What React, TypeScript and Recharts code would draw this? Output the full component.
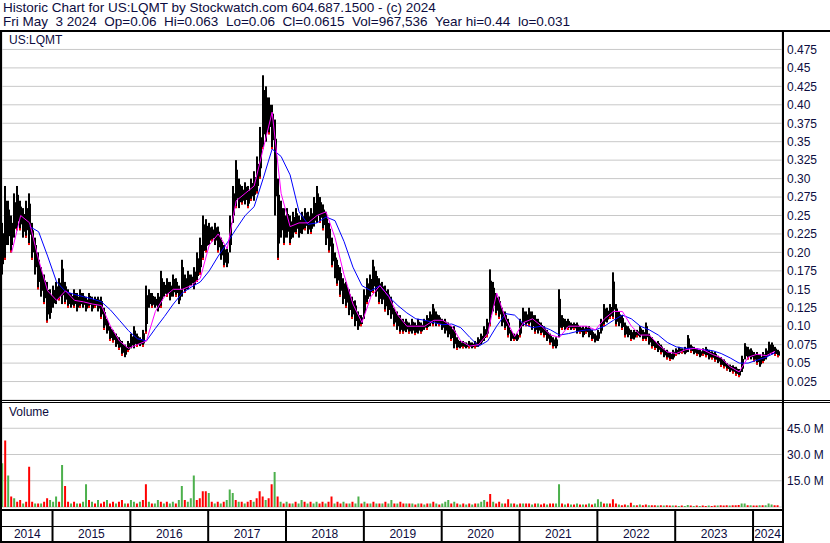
import React from "react";
import { Bar, CartesianGrid, Cell, ComposedChart, Line, XAxis, YAxis } from "recharts";

// header text
const headerLines = [
  "Historic Chart for US:LQMT by Stockwatch.com 604.687.1500 - (c) 2024",
  "Fri May  3 2024  Op=0.06  Hi=0.063  Lo=0.06  Cl=0.0615  Vol=967,536  Year hi=0.44  lo=0.031",
];
const symbol = "US:LQMT";

// time axis: one point every two weeks
const firstDate = 2014.36;
const pointsPerYear = 26;
const xDomain: [number, number] = [2014.351, 2024.372];
const years = [2014, 2015, 2016, 2017, 2018, 2019, 2020, 2021, 2022, 2023, 2024];
const yearTicks = [2015, 2016, 2017, 2018, 2019, 2020, 2021, 2022, 2023, 2024];

const priceTicks = [
  0.025, 0.05, 0.075, 0.1, 0.125, 0.15, 0.175, 0.2, 0.225, 0.25, 0.275, 0.3, 0.325, 0.35, 0.375, 0.4,
  0.425, 0.45, 0.475,
];
const priceTickLabels = [
  "0.025", "0.05", "0.075", "0.10", "0.125", "0.15", "0.175", "0.20", "0.225", "0.25", "0.275", "0.30",
  "0.325", "0.35", "0.375", "0.40", "0.425", "0.45", "0.475",
];
const volTicks = [15, 30, 45];
const volTickLabels = ["15.0 M", "30.0 M", "45.0 M"];

const priceHigh = [
  0.24, 0.29, 0.27, 0.25, 0.28, 0.29, 0.27, 0.26, 0.27, 0.28,
  0.24, 0.22, 0.2, 0.18, 0.17, 0.16, 0.15, 0.155, 0.16, 0.165,
  0.19, 0.16, 0.15, 0.145, 0.15, 0.145, 0.15, 0.145, 0.14, 0.145,
  0.14, 0.14, 0.14, 0.14, 0.125, 0.11, 0.1, 0.095, 0.09, 0.085,
  0.08, 0.075, 0.08, 0.09, 0.1, 0.09, 0.085, 0.095, 0.155, 0.15,
  0.145, 0.14, 0.145, 0.175, 0.16, 0.165, 0.16, 0.17, 0.165, 0.155,
  0.19, 0.17, 0.175, 0.17, 0.18, 0.2, 0.22, 0.25, 0.245, 0.24,
  0.235, 0.24, 0.235, 0.22, 0.21, 0.205, 0.25, 0.29, 0.325, 0.3,
  0.29, 0.295, 0.29, 0.3, 0.31, 0.33, 0.37, 0.44, 0.425, 0.41,
  0.4, 0.38, 0.3, 0.27, 0.26, 0.26, 0.25, 0.255, 0.26, 0.25,
  0.255, 0.26, 0.255, 0.26, 0.275, 0.29, 0.275, 0.265, 0.255, 0.24,
  0.22, 0.2, 0.19, 0.18, 0.165, 0.16, 0.15, 0.14, 0.135, 0.12,
  0.115, 0.15, 0.165, 0.17, 0.19, 0.175, 0.165, 0.16, 0.155, 0.15,
  0.14, 0.125, 0.12, 0.115, 0.11, 0.11, 0.105, 0.11, 0.105, 0.11,
  0.105, 0.11, 0.115, 0.12, 0.13, 0.12, 0.115, 0.11, 0.11, 0.105,
  0.1, 0.1, 0.085, 0.08, 0.08, 0.078, 0.08, 0.078, 0.08, 0.085,
  0.09, 0.1, 0.11, 0.177, 0.16, 0.145, 0.14, 0.125, 0.12, 0.11,
  0.095, 0.09, 0.09, 0.11, 0.125, 0.12, 0.125, 0.12, 0.115, 0.11,
  0.105, 0.1, 0.095, 0.09, 0.085, 0.085, 0.15, 0.115, 0.11, 0.11,
  0.105, 0.105, 0.105, 0.1, 0.1, 0.1, 0.1, 0.095, 0.09, 0.095,
  0.11, 0.13, 0.125, 0.13, 0.173, 0.13, 0.12, 0.115, 0.105, 0.1,
  0.095, 0.095, 0.095, 0.1, 0.095, 0.105, 0.09, 0.085, 0.08, 0.08,
  0.075, 0.07, 0.068, 0.065, 0.068, 0.07, 0.072, 0.07, 0.072, 0.088,
  0.075, 0.072, 0.07, 0.068, 0.07, 0.072, 0.068, 0.066, 0.065, 0.06,
  0.058, 0.055, 0.05, 0.048, 0.047, 0.045, 0.042, 0.06, 0.077, 0.072,
  0.07, 0.065, 0.065, 0.062, 0.065, 0.07, 0.079, 0.078, 0.072, 0.068,
];

const priceLow = [
  0.17, 0.19, 0.21, 0.2, 0.22, 0.23, 0.23, 0.22, 0.22, 0.21,
  0.19, 0.17, 0.15, 0.14, 0.13, 0.105, 0.11, 0.125, 0.13, 0.135,
  0.13, 0.13, 0.125, 0.125, 0.125, 0.12, 0.125, 0.125, 0.12, 0.125,
  0.12, 0.125, 0.12, 0.11, 0.095, 0.09, 0.08, 0.078, 0.072, 0.068,
  0.06, 0.058, 0.065, 0.07, 0.07, 0.072, 0.073, 0.072, 0.09, 0.125,
  0.125, 0.125, 0.12, 0.125, 0.14, 0.14, 0.135, 0.14, 0.14, 0.13,
  0.14, 0.145, 0.15, 0.155, 0.15, 0.16, 0.17, 0.19, 0.2, 0.21,
  0.215, 0.21, 0.2, 0.19, 0.18, 0.18, 0.2, 0.24, 0.26, 0.26,
  0.265, 0.265, 0.26, 0.27, 0.27, 0.28, 0.3, 0.34, 0.35, 0.36,
  0.34, 0.25, 0.19, 0.22, 0.21, 0.22, 0.21, 0.22, 0.225, 0.22,
  0.225, 0.23, 0.225, 0.225, 0.235, 0.24, 0.24, 0.23, 0.21, 0.2,
  0.18, 0.165, 0.155, 0.14, 0.13, 0.125, 0.115, 0.11, 0.1, 0.095,
  0.1, 0.11, 0.13, 0.14, 0.145, 0.14, 0.13, 0.13, 0.12, 0.115,
  0.11, 0.1, 0.095, 0.09, 0.09, 0.092, 0.09, 0.09, 0.088, 0.09,
  0.09, 0.095, 0.095, 0.1, 0.1, 0.1, 0.1, 0.095, 0.09, 0.085,
  0.08, 0.07, 0.068, 0.07, 0.07, 0.07, 0.07, 0.07, 0.07, 0.072,
  0.075, 0.08, 0.085, 0.1, 0.12, 0.115, 0.11, 0.1, 0.095, 0.085,
  0.08, 0.08, 0.08, 0.085, 0.1, 0.1, 0.1, 0.095, 0.09, 0.09,
  0.088, 0.085, 0.08, 0.075, 0.07, 0.07, 0.085, 0.095, 0.095, 0.095,
  0.095, 0.095, 0.09, 0.09, 0.085, 0.09, 0.085, 0.08, 0.078, 0.08,
  0.09, 0.1, 0.105, 0.11, 0.11, 0.1, 0.1, 0.095, 0.085, 0.085,
  0.08, 0.082, 0.085, 0.085, 0.08, 0.08, 0.075, 0.07, 0.068, 0.065,
  0.062, 0.058, 0.055, 0.053, 0.055, 0.06, 0.062, 0.063, 0.062, 0.065,
  0.064, 0.062, 0.06, 0.058, 0.06, 0.058, 0.055, 0.055, 0.052, 0.05,
  0.045, 0.043, 0.04, 0.038, 0.036, 0.033, 0.031, 0.038, 0.055, 0.055,
  0.055, 0.052, 0.048, 0.045, 0.05, 0.055, 0.06, 0.062, 0.06, 0.058,
];

// volume in millions, G = up, R = down
const volume = [
  25, 38, 18, 6, 5, 3, 4, 2, 3, 23,
  3, 2, 2, 2, 3, 5, 4, 3, 6, 3,
  24, 12, 3, 2, 3, 2, 2, 3, 13, 4,
  3, 2, 4, 2, 3, 4, 2, 3, 2, 3,
  4, 2, 2, 4, 3, 2, 3, 4, 13, 3,
  2, 2, 4, 3, 2, 3, 2, 3, 2, 4,
  12, 4, 3, 5, 18, 4, 5, 9, 9, 8,
  3, 2, 3, 2, 3, 4, 10, 8, 4, 3,
  3, 2, 3, 4, 3, 5, 9, 6, 4, 5,
  13, 20, 6, 3, 2, 3, 2, 2, 3, 2,
  4, 3, 2, 3, 2, 3, 2, 3, 2, 3,
  6, 2, 3, 2, 3, 2, 2, 3, 2, 6,
  2, 3, 2, 2, 3, 2, 2, 2, 3, 2,
  4, 2, 2, 3, 2, 2, 2, 2, 1.5, 2,
  2, 1.5, 2, 2, 3, 2, 1.5, 2, 3, 4,
  2, 3, 2, 1.5, 2, 1.5, 2, 1.5, 2, 2,
  3, 4, 3, 7.5, 3, 2, 3, 2, 2, 4.5,
  2, 2, 1.5, 2, 2, 2, 2, 1.5, 2, 2,
  1.5, 2, 1.5, 2, 2, 2, 13, 2, 1.5, 2,
  1.5, 1.5, 2, 1.5, 1.5, 1.5, 2, 1.5, 2, 4.5,
  3, 2, 2, 2, 4.5, 2, 1.5, 1, 1.5, 1,
  2.5, 1, 1, 1.5, 1, 1.5, 1, 1, 1, 0.8,
  1, 0.8, 1, 0.8, 0.8, 0.8, 0.6, 0.8, 0.6, 1.2,
  0.8, 0.6, 0.8, 0.6, 0.8, 0.6, 0.8, 0.6, 0.8, 0.8,
  1, 0.8, 1, 0.8, 1, 1, 1.2, 2, 2, 1,
  1, 0.8, 0.8, 1, 1, 1, 2, 1.5, 1, 1,
];
const volDir =
  "GRGRGRRGRR" + "RGRGRRGGGR" + "GRRGRGRGGR" + "GRGRRGRRGR" + "RGRGGRGRRG" +
  "RGGRGRGGRG" + "GRGGGRRRRG" + "RGRGRGGGRG" + "RGRRGRRRGR" + "RGRGRGRGRG" +
  "GRGRGGRRGR" + "RGRRGRGRGG" + "RGRGRGRGRG" + "GRGRRGRGRG" + "RGRGRGRGGG" +
  "RGRGRGRGRG" + "GGRRGRRGRR" + "GRGRGRRGRG" + "RRGRRGGRGR" + "GRGRGRGRGG" +
  "GRGRRRGRRG" + "RGRGRRGRRG" + "RGRRGRGRGG" + "RGRGRRGRRG" + "RRRGRRRGGR" +
  "GRRGRGGGRR";

// moving averages, sampled every third point
const maStep = 3;
const maShortStart = 3;
const maShort = [
  0.2, 0.25, 0.24, 0.19, 0.148, 0.135, 0.148, 0.135, 0.133, 0.13,
  0.128, 0.1, 0.08, 0.07, 0.075, 0.08, 0.12, 0.14, 0.15, 0.15,
  0.155, 0.165, 0.21, 0.225, 0.205, 0.27, 0.28, 0.29, 0.34, 0.39,
  0.28, 0.235, 0.24, 0.24, 0.25, 0.255, 0.22, 0.17, 0.13, 0.105,
  0.14, 0.155, 0.14, 0.115, 0.1, 0.1, 0.1, 0.108, 0.108, 0.1,
  0.08, 0.073, 0.075, 0.09, 0.145, 0.11, 0.086, 0.105, 0.11, 0.1,
  0.088, 0.085, 0.1, 0.1, 0.1, 0.095, 0.11, 0.12, 0.12, 0.1,
  0.088, 0.088, 0.075, 0.065, 0.063, 0.068, 0.07, 0.068, 0.062, 0.057,
  0.045, 0.038, 0.058, 0.062, 0.06, 0.066,
];
const maLongStart = 9;
const maLong = [
  0.235, 0.228, 0.195, 0.16, 0.147, 0.143, 0.14, 0.137, 0.133, 0.122,
  0.108, 0.094, 0.083, 0.08, 0.097, 0.113, 0.13, 0.145, 0.153, 0.16,
  0.175, 0.195, 0.213, 0.232, 0.25, 0.262, 0.3, 0.34, 0.33, 0.305,
  0.255, 0.238, 0.24, 0.248, 0.243, 0.215, 0.18, 0.155, 0.148, 0.155,
  0.14, 0.128, 0.118, 0.11, 0.108, 0.105, 0.102, 0.103, 0.098, 0.085,
  0.073, 0.08, 0.1, 0.117, 0.115, 0.103, 0.098, 0.1, 0.095, 0.088,
  0.09, 0.093, 0.095, 0.095, 0.1, 0.108, 0.115, 0.11, 0.1, 0.095,
  0.088, 0.078, 0.072, 0.07, 0.07, 0.068, 0.067, 0.063, 0.057, 0.05,
  0.05, 0.054, 0.058, 0.064,
];

const TEXT = "#0c0c40";
const GRID = "#c8c8c8";
const UP = "#4cb04c";
const DOWN = "#ff0000";
const FONT = "Arial, 'Liberation Sans', sans-serif";

const sampled = (arr: number[], start: number, i: number) =>
  i >= start && (i - start) % maStep === 0 ? arr[(i - start) / maStep] ?? null : null;

const rows = priceHigh.map((hi, i) => ({
  t: firstDate + i / pointsPerYear,
  range: [priceLow[i], hi],
  vol: volume[i],
  dir: volDir[i],
  maS: sampled(maShort, maShortStart, i),
  maL: sampled(maLong, maLongStart, i),
}));

const yearLabelTicks = years.map((yr) => (Math.max(yr, xDomain[0]) + Math.min(yr + 1, xDomain[1])) / 2);
const bottomTicks = [...yearTicks, ...yearLabelTicks].sort((a, b) => a - b);

// high-low stroke: a 2px full range plus a 1px core that closes the gap to the next bar
function HiLoBar(props: any) {
  const { x, y, width, height, payload } = props;
  const left = Math.round(x + width / 2 - 1);
  const h = Math.max(height, 1);
  return (
    <g>
      <rect x={left} y={y} width={2} height={h} fill="#000" />
      <rect x={left + 2} y={y + h * 0.2} width={1} height={Math.max(h * 0.6, 1)} fill="#000" />
      {payload.dir === "R" && <rect x={left} y={y + h - 2} width={2} height={2} fill={DOWN} />}
    </g>
  );
}

function YearTick(props: any) {
  const { x, y, payload } = props;
  const v = payload.value;
  if (Number.isInteger(v)) {
    return <line x1={x} x2={x} y1={y + 2} y2={y + 34} stroke="#000" strokeWidth={2} />;
  }
  const idx = yearLabelTicks.indexOf(v);
  return (
    <text x={x} y={y + 31} textAnchor="middle" fontSize={12} fill={TEXT} fontFamily={FONT}>
      {String(years[idx])}
    </text>
  );
}

const line = (left: number, top: number, width: number, height: number) => (
  <div style={{ position: "absolute", left, top, width, height, background: "#000" }} />
);

export default function App() {
  return (
    <div
      style={{
        position: "absolute",
        left: 0,
        top: 0,
        width: 830,
        height: 543,
        background: "#fff",
        overflow: "hidden",
        fontFamily: FONT,
        color: TEXT,
      }}
    >
      <div style={{ position: "absolute", left: 3, top: 1, fontSize: 13.5, lineHeight: "14px", whiteSpace: "pre" }}>
        {headerLines[0]}
        <br />
        {headerLines[1]}
      </div>

      <div style={{ position: "absolute", left: 0, top: 31 }}>
        <ComposedChart width={830} height={369} data={rows} margin={{ top: 0, right: 0, bottom: 0, left: 2 }}>
          <CartesianGrid stroke={GRID} />
          <XAxis
            dataKey="t"
            type="number"
            domain={xDomain}
            allowDataOverflow
            ticks={yearTicks}
            height={0}
            tick={false}
            axisLine={false}
            tickLine={false}
          />
          <YAxis
            orientation="right"
            width={48}
            domain={[0, 0.5]}
            ticks={priceTicks}
            interval={0}
            axisLine={false}
            tickLine={false}
            tickSize={0}
            tickMargin={5}
            tick={{ fontSize: 12, fill: TEXT, fontFamily: FONT }}
            tickFormatter={(v: number) => priceTickLabels[priceTicks.indexOf(v)] ?? ""}
          />
          <Bar dataKey="range" barSize={2} shape={<HiLoBar />} isAnimationActive={false} />
          <Line
            dataKey="maL"
            stroke="#0000ff"
            strokeWidth={1}
            dot={false}
            connectNulls
            isAnimationActive={false}
          />
          <Line
            dataKey="maS"
            stroke="#ff00ff"
            strokeWidth={1}
            dot={false}
            connectNulls
            isAnimationActive={false}
          />
        </ComposedChart>
      </div>

      <div style={{ position: "absolute", left: 0, top: 402 }}>
        <ComposedChart width={830} height={139} data={rows} margin={{ top: 0, right: 0, bottom: 0, left: 2 }}>
          <CartesianGrid stroke={GRID} xAxisId="g" />
          <XAxis
            xAxisId="g"
            dataKey="t"
            type="number"
            domain={xDomain}
            allowDataOverflow
            ticks={yearTicks}
            height={0}
            tick={false}
            axisLine={false}
            tickLine={false}
          />
          <XAxis
            xAxisId="lab"
            dataKey="t"
            type="number"
            domain={xDomain}
            allowDataOverflow
            ticks={bottomTicks}
            interval={0}
            height={34}
            axisLine={false}
            tickLine={false}
            tickSize={0}
            tickMargin={0}
            tick={<YearTick />}
          />
          <YAxis
            orientation="right"
            width={48}
            domain={[0, 60]}
            ticks={volTicks}
            interval={0}
            axisLine={false}
            tickLine={false}
            tickSize={0}
            tickMargin={5}
            tick={{ fontSize: 12, fill: TEXT, fontFamily: FONT }}
            tickFormatter={(v: number) => volTickLabels[volTicks.indexOf(v)] ?? ""}
          />
          <Bar dataKey="vol" xAxisId="g" barSize={2} isAnimationActive={false}>
            {rows.map((r, i) => (
              <Cell key={i} fill={r.dir === "G" ? UP : DOWN} />
            ))}
          </Bar>
        </ComposedChart>
      </div>

      <div style={{ position: "absolute", left: 9, top: 33, fontSize: 12, lineHeight: "14px" }}>{symbol}</div>
      <div style={{ position: "absolute", left: 9, top: 405, fontSize: 12, lineHeight: "14px" }}>Volume</div>

      {line(0, 30, 830, 2)}
      {line(0, 30, 2, 513)}
      {line(782, 30, 2, 513)}
      {line(0, 400, 830, 1)}
      {line(0, 402, 830, 1)}
      {line(0, 509, 782, 2)}
      {line(0, 526, 782, 1)}
      {line(0, 541, 782, 2)}
    </div>
  );
}
